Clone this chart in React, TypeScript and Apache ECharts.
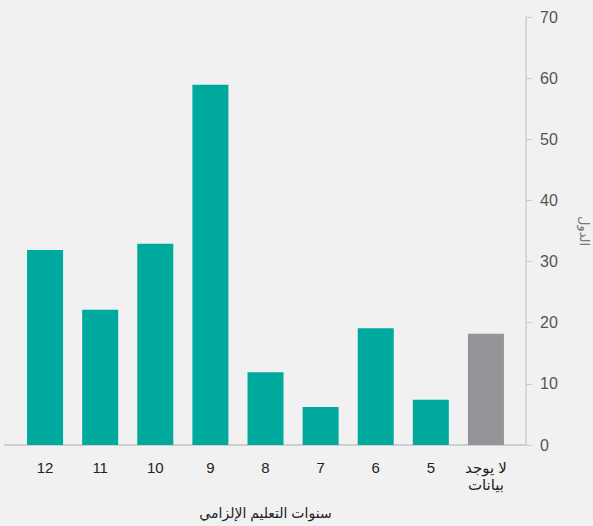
import React, { useEffect, useRef } from "react";
import * as echarts from "echarts";

const categories = ["لا يوجد\nبيانات", "5", "6", "7", "8", "9", "10", "11", "12"];
const values = [18.2, 7.4, 19.1, 6.2, 11.9, 58.9, 32.9, 22.1, 31.9];
const barColors = ["#939598", "#00a99d", "#00a99d", "#00a99d", "#00a99d", "#00a99d", "#00a99d", "#00a99d", "#00a99d"];
const yTicks = [0, 10, 20, 30, 40, 50, 60, 70];
const xName = "سنوات التعليم الإلزامي";
const yName = "الدول";

export default function App() {
  const ref = useRef<HTMLDivElement>(null);
  useEffect(() => {
    if (!ref.current) return;
    const chart = echarts.init(ref.current, undefined, { renderer: "svg" });
    const font = "'Liberation Sans', Arial, 'DejaVu Sans', sans-serif";
    chart.setOption({
      animation: false,
      backgroundColor: "#f1f1f1",
      textStyle: { fontFamily: font },
      grid: { left: 17.5, right: 79.5, top: 17, bottom: 81, containLabel: false, outerBoundsMode: "none" },
      xAxis: {
        type: "category",
        inverse: true,
        data: categories,
        axisLine: { show: false },
        axisTick: { show: false },
        axisLabel: { interval: 0, color: "#222", fontSize: 15, margin: 14, lineHeight: 17, fontFamily: font },
        name: xName,
        nameLocation: "middle",
        nameGap: 61,
        nameTextStyle: { color: "#222", fontSize: 14, fontFamily: font },
      },
      yAxis: {
        type: "value",
        position: "right",
        offset: 12.5,
        min: yTicks[0],
        max: yTicks[yTicks.length - 1],
        interval: 10,
        splitLine: { show: false },
        axisLine: { show: true, lineStyle: { color: "#cccccc", width: 1.5 } },
        axisTick: { show: true, length: 6, lineStyle: { color: "#cccccc" } },
        axisLabel: { color: "#555", fontSize: 16, margin: 14, fontFamily: font },
        name: yName,
        nameLocation: "middle",
        nameRotate: -90,
        nameGap: 52,
        nameTextStyle: { color: "#777", fontSize: 13, fontFamily: font },
      },
      graphic: [
        {
          type: "line",
          shape: { x1: 4, y1: 445, x2: 526, y2: 445 },
          style: { stroke: "#cfcfcf", lineWidth: 2 },
          z: 1,
        },
      ],
      series: [
        {
          type: "bar",
          barWidth: 36,
          z: 2,
          data: values.map((v, i) => ({ value: v, itemStyle: { color: barColors[i] } })),
        },
      ],
    });
    return () => chart.dispose();
  }, []);
  return <div ref={ref} style={{ position: "absolute", left: 0, top: 0, width: 593, height: 526 }} />;
}
